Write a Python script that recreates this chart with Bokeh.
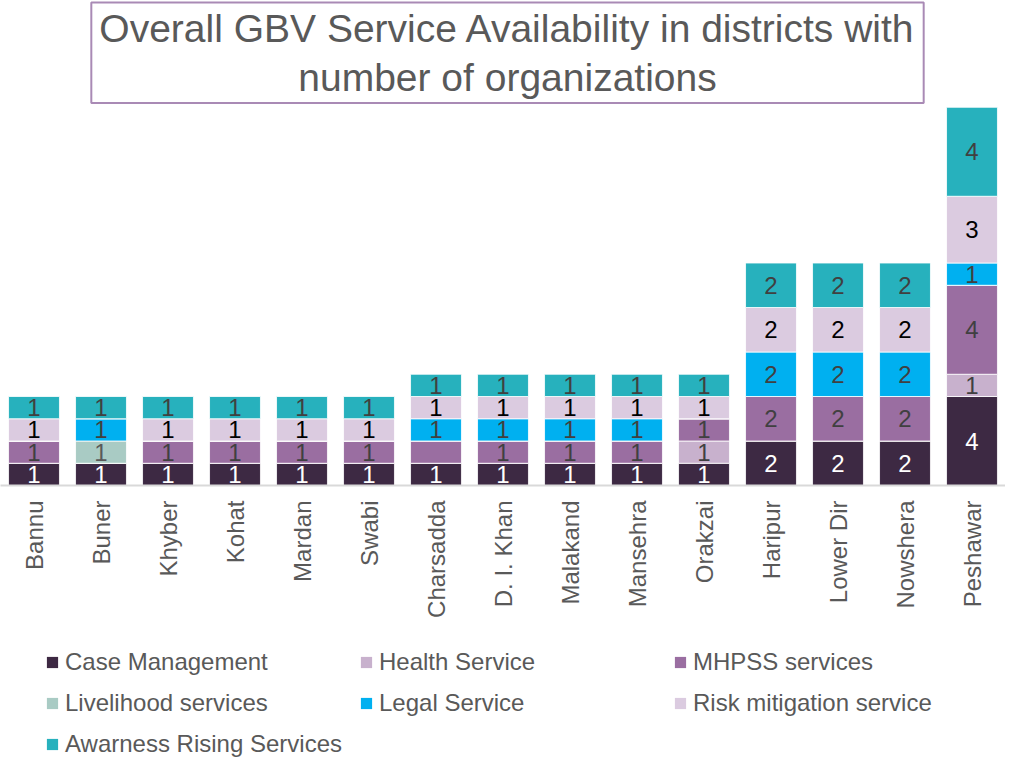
import math
from bokeh.plotting import figure
from bokeh.layouts import column
from bokeh.models import ColumnDataSource, FactorRange, Range1d, Label, Legend, LegendItem
from bokeh.core.properties import value
from bokeh.embed import file_html
from bokeh.resources import INLINE

districts = ["Bannu", "Buner", "Khyber", "Kohat", "Mardan", "Swabi", "Charsadda",
             "D. I. Khan", "Malakand", "Mansehra", "Orakzai", "Haripur", "Lower Dir",
             "Nowshera", "Peshawar"]

case_management = [1, 1, 1, 1, 1, 1, 1, 1, 1, 1, 1, 2, 2, 2, 4]
health_service = [0, 0, 0, 0, 0, 0, 0, 0, 0, 0, 1, 0, 0, 0, 1]
mhpss_services = [1, 0, 1, 1, 1, 1, 1, 1, 1, 1, 1, 2, 2, 2, 4]
livelihood_services = [0, 1, 0, 0, 0, 0, 0, 0, 0, 0, 0, 0, 0, 0, 0]
legal_service = [0, 1, 0, 0, 0, 0, 1, 1, 1, 1, 0, 2, 2, 2, 1]
risk_mitigation = [1, 0, 1, 1, 1, 1, 1, 1, 1, 1, 1, 2, 2, 2, 3]
awareness_rising = [1, 1, 1, 1, 1, 1, 1, 1, 1, 1, 1, 2, 2, 2, 4]

series_names = ["Case Management", "Health Service", "MHPSS services",
                "Livelihood services", "Legal Service", "Risk mitigation service",
                "Awarness Rising Services"]
series_values = [case_management, health_service, mhpss_services, livelihood_services,
                 legal_service, risk_mitigation, awareness_rising]
series_colors = ["#3D2943", "#C8B1CD", "#9A6EA1", "#A9CBC4", "#00B0F0", "#DBCBE0", "#27B1BD"]
label_colors = ["#FFFFFF", "#404040", "#404040", "#595959", "#404040", "#000000", "#404040"]
# data labels not shown in the original chart
unlabelled = [("Charsadda", "MHPSS services")]

title_text = "Overall GBV Service Availability in districts with\nnumber of organizations"

FONT = "Liberation Sans"

keys = ["s%d" % i for i in range(len(series_names))]
data = {"district": districts}
for k, v in zip(keys, series_values):
    data[k] = v
source = ColumnDataSource(data)

p = figure(x_range=FactorRange(*districts, range_padding=0), y_range=Range1d(0, 21.8),
           width=1005, height=625, output_backend="svg", toolbar_location=None,
           min_border_left=0, min_border_right=0, min_border_top=0, min_border_bottom=140,
           y_axis_location=None, outline_line_color=None)

renderers = p.vbar_stack(keys, x="district", width=0.76, source=source,
                         color=series_colors, line_color="white", line_width=0.8)

# segment labels
lx, ly, lt, lc = [], [], [], []
for si, (name, vals) in enumerate(zip(series_names, series_values)):
    for di, d in enumerate(districts):
        v = vals[di]
        if v <= 0 or (d, name) in unlabelled:
            continue
        base = sum(series_values[j][di] for j in range(si))
        lx.append(d)
        ly.append(base + v / 2)
        lt.append(str(v))
        lc.append(label_colors[si])
lsrc = ColumnDataSource(dict(x=lx, y=ly, t=lt, c=lc))
p.text(x="x", y="y", text="t", source=lsrc, text_color="c", text_align="center",
       text_baseline="middle", text_font=value(FONT), text_font_size="24px")

p.xgrid.grid_line_color = None
p.ygrid.grid_line_color = None
ax = p.xaxis[0]
ax.axis_line_color = "#D9D9D9"
ax.axis_line_width = 2
ax.major_tick_line_color = None
ax.minor_tick_line_color = None
ax.major_tick_out = 0
ax.major_tick_in = 0
ax.major_label_orientation = math.pi / 2
ax.major_label_standoff = 15
ax.major_label_text_font = FONT
ax.major_label_text_font_size = "24px"
ax.major_label_text_color = "#595959"

title = Label(x=507, y=483, x_units="screen", y_units="screen", text=title_text,
              text_align="center", text_baseline="top", text_font=FONT,
              text_font_size="39px", text_color="#595959", text_line_height=1.15,
              border_line_color="#A98AB5", border_line_width=2,
              background_fill_color="white",
              padding=dict(left=8, right=8, top=4, bottom=4))
p.add_layout(title)

# legend panel (hidden copies of the series carry the legend swatches)
lg = figure(width=1005, height=133, output_backend="svg", toolbar_location=None,
            x_range=Range1d(100, 101), y_range=Range1d(100, 101),
            min_border_left=0, min_border_right=0, min_border_top=0, min_border_bottom=0,
            x_axis_location=None, y_axis_location=None, outline_line_color=None)
lg.xgrid.grid_line_color = None
lg.ygrid.grid_line_color = None
items = []
for name, col, vals in zip(series_names, series_colors, series_values):
    r = lg.vbar(x=list(range(len(districts))), top=vals, width=0.76, color=col,
                line_color=None)
    items.append(LegendItem(label=name, renderers=[r]))
legend = Legend(items=items, location=(45, 0), orientation="horizontal", ncols=3,
                padding=0, margin=0, spacing=13, label_height=28, label_width=281,
                glyph_width=14, glyph_height=14, label_standoff=6,
                label_text_font=FONT, label_text_font_size="24px",
                label_text_color="#595959", border_line_color=None,
                background_fill_alpha=0)
lg.add_layout(legend, "center")

layout = column(p, lg, spacing=0)
open("out.html", "w").write(file_html(layout, INLINE))
